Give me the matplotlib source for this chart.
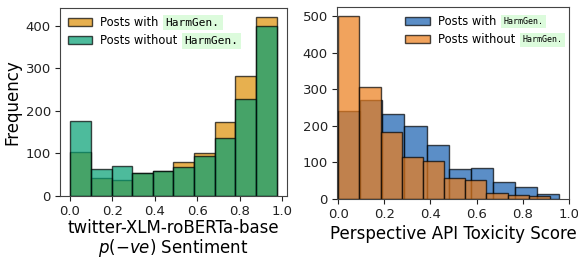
import numpy as np
import matplotlib
matplotlib.use("Agg")
import matplotlib.pyplot as plt

# left panel: twitter-XLM-roBERTa-base p(-ve) sentiment, 10 bins
sent_range = (0.003, 0.975)
sent_with = [103, 43, 38, 53, 58, 80, 102, 173, 282, 421]
sent_without = [177, 63, 71, 55, 59, 68, 95, 137, 228, 400]

# right panel: Perspective API toxicity score, 10 bins each
tox_with_range = (0.0, 0.957)
tox_with = [240, 271, 233, 199, 149, 83, 86, 47, 32, 13]
tox_without_range = (0.0, 0.918)
tox_without = [500, 305, 184, 114, 103, 58, 52, 17, 10, 8]

label_with = "Posts with"
label_without = "Posts without"
tag = "HarmGen."

W, H = 578, 261
fig = plt.figure(figsize=(W / 100, H / 100), dpi=100)
ax1 = fig.add_axes([60 / W, 65 / H, 227 / W, 188 / H])
ax2 = fig.add_axes([337 / W, 62 / H, 232 / W, 192 / H])


def hist_counts(ax, rng, counts, color, label):
    edges = np.linspace(rng[0], rng[1], len(counts) + 1)
    centers = (edges[:-1] + edges[1:]) / 2
    ax.hist(centers, bins=edges, weights=counts, color=color, alpha=0.7,
            edgecolor="black", linewidth=1.0, label=label)


hist_counts(ax1, sent_range, sent_with, "#DE8F05", label_with)
hist_counts(ax1, sent_range, sent_without, "#029E73", label_without)
hist_counts(ax2, tox_with_range, tox_with, "#155FB0", label_with)
hist_counts(ax2, tox_without_range, tox_without, "#EC7C19", label_without)

ax2.set_xlim(-0.005, 1.0)
for ax in (ax1, ax2):
    ax.set_xticks(np.arange(0, 1.01, 0.2))
    ax.tick_params(labelsize=9.5, length=3.5, width=0.8, colors="#222222",
                   pad=3)
    for s in ax.spines.values():
        s.set_color("#444444")
        s.set_linewidth(0.8)
ax1.set_yticks([0, 100, 200, 300, 400])

ax1.set_ylabel("Frequency", fontsize=12, labelpad=3)
ax1.set_xlabel("twitter-XLM-roBERTa-base\n" + r"$p(-ve)$ Sentiment",
               fontsize=12, linespacing=0.95, labelpad=1)
ax2.set_xlabel("Perspective API Toxicity Score", fontsize=12, labelpad=3)

leg_kw = dict(frameon=False, fontsize=8.3, handlelength=2.1,
              handleheight=0.75, handletextpad=0.7, labelspacing=0.45,
              borderaxespad=0.3)
leg1 = ax1.legend(loc="upper left", **leg_kw)
leg2 = ax2.legend(loc="upper left", bbox_to_anchor=(0.26, 1.0), **leg_kw)

fig.canvas.draw()
r = fig.canvas.get_renderer()


def add_tags(leg, size, pad, gap):
    for t in leg.get_texts():
        bb = t.get_window_extent(r)
        fig.text(bb.x1 + gap + pad, (bb.y0 + bb.y1) / 2, tag, transform=None,
                 family="DejaVu Sans Mono", fontsize=size, va="center",
                 ha="left",
                 bbox=dict(facecolor="#dcfbdc", edgecolor="none", pad=pad))


add_tags(leg1, 8.0, 2.0, 5)
add_tags(leg2, 6.0, 1.6, 6)

fig.savefig("out.png", dpi=100)
